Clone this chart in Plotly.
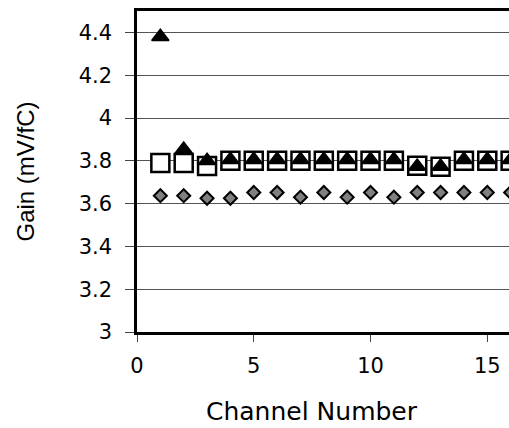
import plotly.graph_objects as go

channels = list(range(1, 17))
squares = [3.79, 3.79, 3.776, 3.80, 3.80, 3.80, 3.80, 3.80, 3.80, 3.80, 3.80, 3.777, 3.772, 3.80, 3.80, 3.80]
triangles = [4.38, 3.853, 3.80, 3.805, 3.805, 3.805, 3.805, 3.805, 3.805, 3.805, 3.805, 3.773, 3.773, 3.805, 3.805, 3.805]
diamonds = [3.637, 3.637, 3.625, 3.625, 3.652, 3.652, 3.63, 3.652, 3.63, 3.652, 3.63, 3.652, 3.652, 3.652, 3.652, 3.652]

x_ticks = [0, 5, 10, 15]
y_ticks = [3, 3.2, 3.4, 3.6, 3.8, 4, 4.2, 4.4]
y_labels = ["3", "3.2", "3.4", "3.6", "3.8", "4", "4.2", "4.4"]
x_title = "Channel Number"
y_title = "Gain (mV/fC)"

fig = go.Figure()
fig.add_trace(go.Scatter(x=channels, y=squares, mode="markers",
                         marker=dict(symbol="square", size=18, color="white",
                                     line=dict(color="black", width=2.5)),
                         showlegend=False))
fig.add_trace(go.Scatter(x=channels, y=triangles, mode="markers",
                         marker=dict(symbol="triangle-up", size=15, color="black",
                                     line=dict(color="black", width=1.5)),
                         showlegend=False))
fig.add_trace(go.Scatter(x=channels, y=diamonds, mode="markers",
                         marker=dict(symbol="diamond", size=10, color="#808080",
                                     line=dict(color="black", width=2)),
                         showlegend=False))

wide = "DejaVu Sans, Verdana, sans-serif"
arial = "Liberation Sans, Arial, sans-serif"
W, H = 509, 428
L, R, T, B = 137, 0, 11, 96
fig.update_layout(
    width=W, height=H,
    margin=dict(l=L, r=R, t=T, b=B),
    paper_bgcolor="white", plot_bgcolor="white",
    font=dict(family=wide, size=21, color="black"),
    xaxis=dict(range=[0, 15.93], tickvals=x_ticks, ticks="outside", ticklen=7,
               tickwidth=1, tickcolor="#444444", showline=True, linecolor="black",
               linewidth=2.5, mirror=True, showgrid=False, zeroline=False,
               automargin=False, tickfont=dict(family=wide, size=21),
               ticklabelstandoff=6),
    yaxis=dict(range=[3, 4.5], tickvals=y_ticks, ticktext=y_labels, ticks="outside",
               ticklen=9, tickwidth=1, tickcolor="#444444", showline=True,
               linecolor="black", linewidth=2.5, mirror=False, showgrid=True,
               gridcolor="#555555", gridwidth=1, zeroline=False,
               automargin=False, tickfont=dict(family=wide, size=21),
               ticklabelstandoff=9),
    annotations=[
        dict(text=x_title, xref="paper", yref="paper",
             x=(312 - L) / (W - L - R), y=-(411 - (H - B)) / (H - T - B),
             xanchor="center", yanchor="middle", showarrow=False,
             font=dict(family=wide, size=25)),
        dict(text=y_title, xref="paper", yref="paper",
             x=-(L - 25) / (W - L - R), y=0.5, textangle=-90,
             xanchor="center", yanchor="middle", showarrow=False,
             font=dict(family=arial, size=24)),
    ],
)

fig.write_html("out.html", config={"displayModeBar": False},
               post_script="document.body.style.margin='0';")
